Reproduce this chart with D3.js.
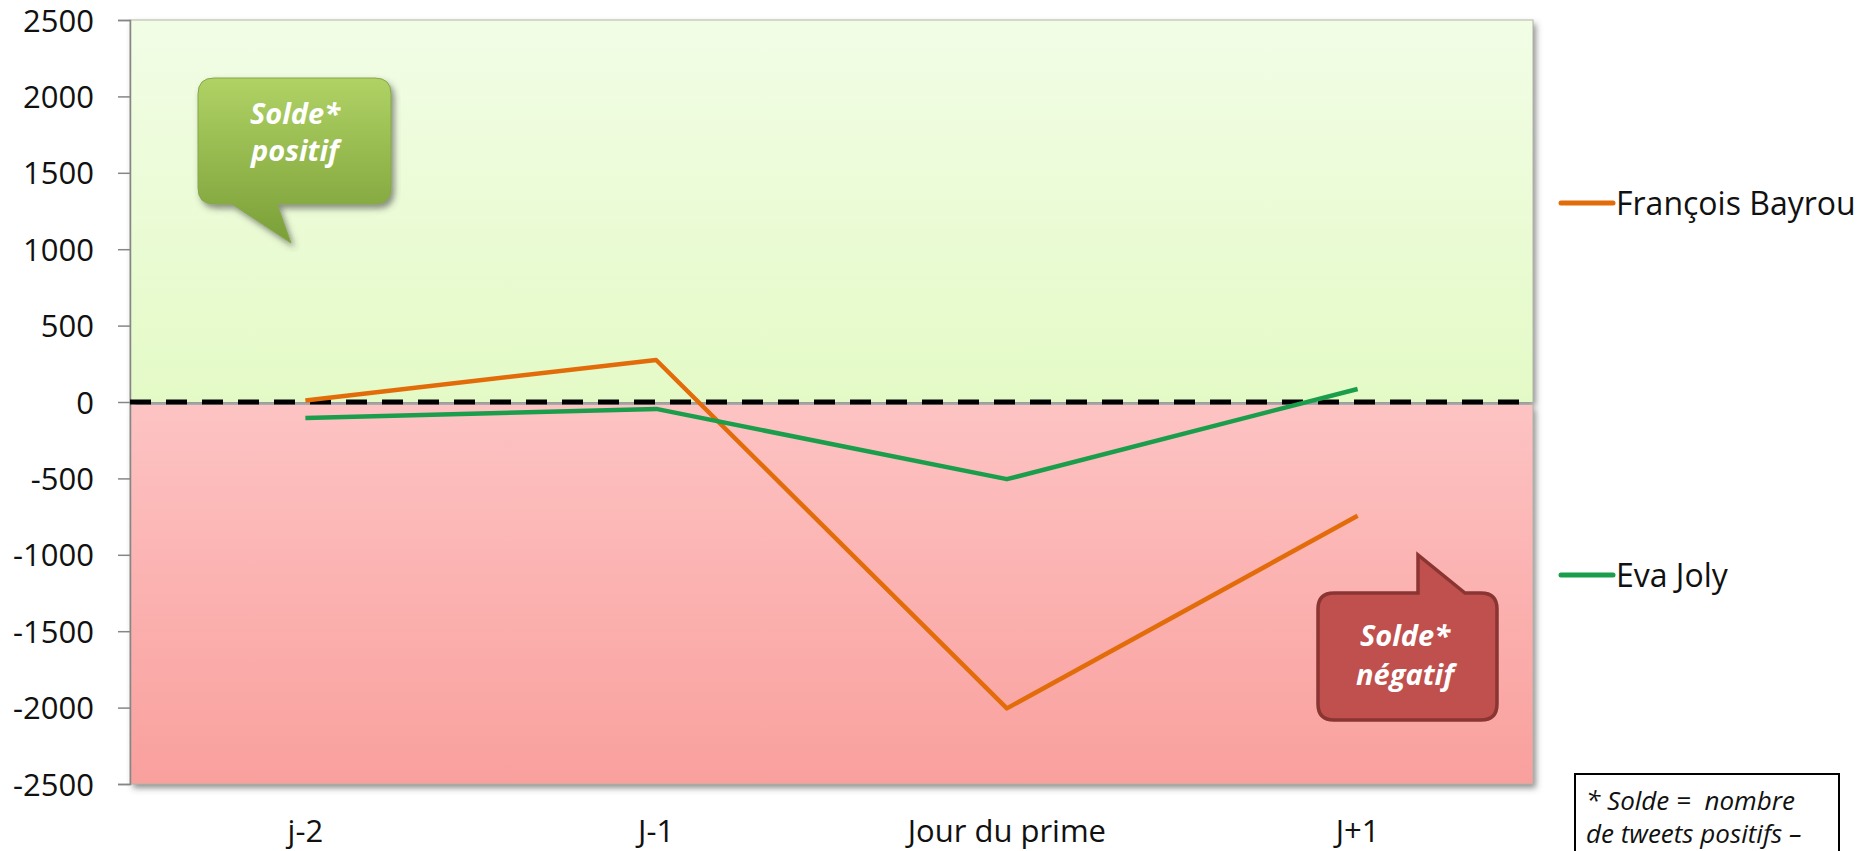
<!DOCTYPE html>
<html>
<head>
<meta charset="utf-8">
<script src="https://cdn.jsdelivr.net/npm/d3@7"></script>
<style>
  body { margin: 0; background: #fff; }
  svg { display: block; font-family: "Open Sans", sans-serif; }
</style>
</head>
<body>
<svg id="chart" width="1860" height="851"></svg>
<script>
// data
const categories = ['j-2', 'J-1', 'Jour du prime', 'J+1'];
const bayrou = [10, 275, -2005, -745];
const joly = [-105, -45, -505, 85];
const yTicks = [2500, 2000, 1500, 1000, 500, 0, -500, -1000, -1500, -2000, -2500];
const seriesNames = ['François Bayrou', 'Eva Joly'];
const seriesColors = ['#e36c0a', '#1a9e4c'];

const svg = d3.select('#chart');
const margin = { top: 20, right: 327, bottom: 67, left: 130 };
const width = 1860 - margin.left - margin.right;
const height = 851 - margin.top - margin.bottom;

const x = d3.scaleBand().domain(categories).range([0, width]);
const y = d3.scaleLinear().domain([-2500, 2500]).range([height, 0]);

const defs = svg.append('defs');
const gGreen = defs.append('linearGradient').attr('id', 'bgGreen').attr('x1', 0).attr('x2', 0).attr('y1', 0).attr('y2', 1);
gGreen.append('stop').attr('offset', '0%').attr('stop-color', '#f2fde6');
gGreen.append('stop').attr('offset', '100%').attr('stop-color', '#e4fac6');
const gPink = defs.append('linearGradient').attr('id', 'bgPink').attr('x1', 0).attr('x2', 0).attr('y1', 0).attr('y2', 1);
gPink.append('stop').attr('offset', '0%').attr('stop-color', '#fdc3c3');
gPink.append('stop').attr('offset', '100%').attr('stop-color', '#f9a09d');
const gCallG = defs.append('linearGradient').attr('id', 'callGreen').attr('x1', 0).attr('x2', 0).attr('y1', 0).attr('y2', 1);
gCallG.append('stop').attr('offset', '0%').attr('stop-color', '#b0d265');
gCallG.append('stop').attr('offset', '100%').attr('stop-color', '#7a9f37');
const shadow = defs.append('filter').attr('id', 'shadow').attr('x', '-5%').attr('y', '-5%').attr('width', '110%').attr('height', '110%');
shadow.append('feDropShadow').attr('dx', 3).attr('dy', 4).attr('stdDeviation', 3)
  .attr('flood-color', '#444').attr('flood-opacity', 0.6);

const g = svg.append('g').attr('transform', `translate(${margin.left},${margin.top})`);

// background zones
const bg = g.append('g').attr('filter', 'url(#shadow)');
bg.append('rect')
  .attr('x', 0).attr('y', y(2500))
  .attr('width', width).attr('height', y(0) - y(2500))
  .attr('fill', 'url(#bgGreen)');
bg.append('rect')
  .attr('x', 0).attr('y', y(0) + 3)
  .attr('width', width).attr('height', y(-2500) - y(0) - 3)
  .attr('fill', 'url(#bgPink)');
g.append('rect')
  .attr('x', 0).attr('y', 0).attr('width', width).attr('height', height)
  .attr('fill', 'none').attr('stroke', '#b4b4a8').attr('stroke-width', 1);

// y axis, plain hyphen for negatives like the original
const yAxis = g.append('g')
  .call(d3.axisLeft(y).tickValues(yTicks).tickSize(12).tickPadding(24).tickFormat(d => String(d)));
yAxis.select('.domain').attr('stroke', '#868686').attr('stroke-width', 1.5);
yAxis.selectAll('.tick line').attr('stroke', '#868686').attr('stroke-width', 1.5);
yAxis.selectAll('.tick text')
  .attr('font-family', '"Open Sans", sans-serif').attr('font-size', 31).attr('fill', '#111')
  .attr('dy', '0.36em');

// x labels
const xAxis = g.append('g')
  .attr('transform', `translate(0,${height})`)
  .call(d3.axisBottom(x).tickSize(0).tickPadding(36));
xAxis.select('.domain').remove();
xAxis.selectAll('.tick text')
  .attr('font-family', '"Open Sans", sans-serif').attr('font-size', 31).attr('fill', '#111');

// zero line
g.append('line')
  .attr('x1', 0).attr('x2', width)
  .attr('y1', y(0)).attr('y2', y(0))
  .attr('stroke', '#000').attr('stroke-width', 5)
  .attr('stroke-dasharray', '21,15');

// series lines
const line = d3.line()
  .x((d, i) => x(categories[i]) + x.bandwidth() / 2)
  .y(d => y(d));
[bayrou, joly].forEach((s, i) => {
  g.append('path')
    .datum(s)
    .attr('d', line)
    .attr('fill', 'none')
    .attr('stroke', seriesColors[i])
    .attr('stroke-width', 4.5)
    .attr('stroke-linejoin', 'round');
});

// legend
const legendY = [203, 575];
seriesNames.forEach((name, i) => {
  const lg = svg.append('g').attr('transform', `translate(1561,${legendY[i]})`);
  lg.append('line').attr('x1', 0).attr('x2', 52).attr('y1', 0).attr('y2', 0)
    .attr('stroke', seriesColors[i]).attr('stroke-width', 5).attr('stroke-linecap', 'round');
  lg.append('text').attr('x', 55).attr('y', 0).attr('dy', '0.36em')
    .attr('font-size', 32).attr('fill', '#111').text(name);
});

// callouts
svg.append('path')
  .attr('d', 'M214,78 H375 Q391,78 391,94 V188 Q391,204 375,204 H277 L291,243 L232,204 H214 Q198,204 198,188 V94 Q198,78 214,78 Z')
  .attr('fill', 'url(#callGreen)').attr('stroke', '#86a84a').attr('stroke-width', 1)
  .attr('filter', 'url(#shadow)');
['Solde*', 'positif'].forEach((t, i) => {
  svg.append('text').attr('x', 295).attr('y', 124 + i * 37).attr('text-anchor', 'middle')
    .attr('font-size', 29).attr('font-weight', 700).attr('font-style', 'italic').attr('fill', '#fff')
    .text(t);
});

svg.append('path')
  .attr('d', 'M1334,593 H1418 L1418,555 L1465,593 H1481 Q1497,593 1497,609 V704 Q1497,720 1481,720 H1334 Q1318,720 1318,704 V609 Q1318,593 1334,593 Z')
  .attr('fill', '#c0504d').attr('stroke', '#8a3532').attr('stroke-width', 3.5);
['Solde*', 'négatif'].forEach((t, i) => {
  svg.append('text').attr('x', 1405).attr('y', 646 + i * 39).attr('text-anchor', 'middle')
    .attr('font-size', 29).attr('font-weight', 700).attr('font-style', 'italic').attr('fill', '#fff')
    .text(t);
});

// footnote box
svg.append('rect')
  .attr('x', 1575).attr('y', 774).attr('width', 264).attr('height', 100)
  .attr('fill', '#fff').attr('stroke', '#000').attr('stroke-width', 2);
['* Solde =  nombre', 'de tweets positifs –'].forEach((t, i) => {
  svg.append('text').attr('x', 1586).attr('y', 810 + i * 33)
    .attr('font-size', 26).attr('font-style', 'italic').attr('fill', '#111')
    .attr('xml:space', 'preserve')
    .text(t);
});
</script>
</body>
</html>
